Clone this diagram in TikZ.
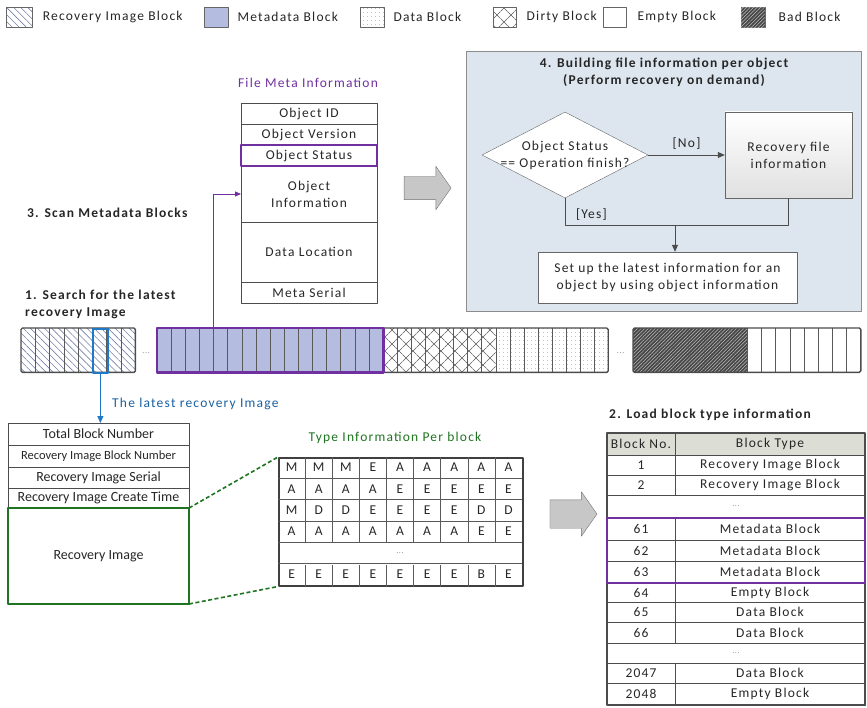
\documentclass[tikz,border=0pt]{standalone}
\usepackage{fontspec}
\setmainfont{Carlito}[LetterSpace=9]
\newfontfamily\plainfont{Carlito}
\usetikzlibrary{positioning,calc,fit,shapes.geometric,shapes.arrows,arrows.meta,patterns.meta}
\definecolor{metafill}{HTML}{B4BCE0}
\definecolor{metapurple}{HTML}{7030A0}
\definecolor{imgblue}{HTML}{1F78C8}
\definecolor{hatchblue}{HTML}{7482AA}
\definecolor{stepgreen}{HTML}{1E7420}
\definecolor{panelblue}{HTML}{DDE6EF}
\definecolor{headgray}{HTML}{DCDDD4}
\definecolor{inkgray}{HTML}{262626}

\begin{document}
\begin{tikzpicture}[x=1pt, y=-1pt, line join=round,
    font=\fontsize{13.5}{17}\selectfont,
    every node/.append style={text=inkgray},
    riblk/.style={pattern={Lines[angle=-45,distance=5pt,line width=0.6pt]}, pattern color=hatchblue},
    metablk/.style={fill=metafill},
    datablk/.style={pattern={Dots[distance=4pt,radius=0.4pt]}, pattern color=black!55},
    dirtyblk/.style={pattern={Hatch[angle=45,distance=9.9pt,line width=0.5pt]}, pattern color=black!65},
    emptyblk/.style={fill=white},
    badblk/.style={fill=black!72, postaction={pattern={Lines[angle=45,distance=2.5pt,line width=0.5pt]}, pattern color=black!25}},
    icon/.style={draw=black!60, minimum width=24, minimum height=20, inner sep=0, anchor=north west},
    legtext/.style={inner sep=0},
    seg/.style={minimum height=44, inner sep=0, anchor=north west},
    cellline/.style={draw=black!65, line width=0.5pt},
    frame/.style={draw=black!70, line width=1.4pt, rounded corners=1.5pt},
    row/.style={draw=black!70, line width=0.7pt, inner sep=0, outer sep=0, anchor=north west, align=center},
    plainrow/.style={row, font=\plainfont\fontsize{14}{17}\selectfont},
    headline/.style={font=\fontsize{13.5}{17}\selectfont\bfseries, inner sep=0, align=left},
    flowarr/.style={draw=black!70, line width=0.8pt, -{Triangle[length=7pt,width=6pt]}},
    bigarrow/.style={single arrow, draw=black!55, fill=black!22, inner xsep=0, minimum height=47,
      single arrow tip angle=110},
    zoomline/.style={draw=stepgreen, line width=1.6pt, dash pattern=on 4pt off 2.5pt}]
\useasboundingbox (0,0) rectangle (867,708);

% Legend
\node[icon, riblk, minimum width=26] (ricon) at (6,7) {};
\node[legtext, right=10pt of ricon] (rilab) {Recovery Image Block};
\node[icon, metablk] (micon) at (204,7) {};
\node[legtext, right=9pt of micon] (mlab) {Metadata Block};
\node[icon, datablk] (dicon) at (360,7) {};
\node[legtext, right=9pt of dicon] (dlab) {Data Block};
\node[icon, dirtyblk, minimum width=23] (xicon) at (493,7) {};
\node[legtext, right=10pt of xicon] (xlab) {Dirty Block};
\node[icon, emptyblk, minimum width=23] (eicon) at (603,7) {};
\node[legtext, right=11pt of eicon] (elab) {Empty Block};
\node[icon, badblk] (bicon) at (741,7) {};
\node[legtext, right=13pt of bicon] (blab) {Bad Block};

% Block strip
\node[seg, riblk, minimum width=114] (riseg) at (21,328) {};
\foreach \i in {1,...,7} \draw[cellline] ($(riseg.north west)+(\i*14.25,0)$) -- ++(0,44);
\draw[frame] (riseg.north west) rectangle (riseg.south east);
\node[seg, draw=imgblue, line width=2pt, minimum width=14.25] (imgcell) at (92.25,328) {};

\node[seg, metablk, minimum width=226] (metaseg) at (157,328) {};
\node[seg, dirtyblk, minimum width=112, right=0pt of metaseg] (dirtyseg) {};
\node[seg, datablk, minimum width=112, right=0pt of dirtyseg] (dataseg) {};
\foreach \i in {1,...,15} \draw[cellline] ($(metaseg.north west)+(\i*14.125,0)$) -- ++(0,44);
\draw[cellline, line width=1pt] ($(metaseg.north west)+(113,0)$) -- ++(0,44);
\foreach \i in {0,...,7} {
  \draw[cellline] ($(dirtyseg.north west)+(\i*14,0)$) -- ++(0,44);
  \draw[cellline] ($(dataseg.north west)+(\i*14,0)$) -- ++(0,44);
}
\draw[frame] (metaseg.north west) rectangle (dataseg.south east);
\draw[draw=metapurple, line width=2.2pt] (metaseg.north west) rectangle (metaseg.south east);

\node[seg, badblk, minimum width=114] (badseg) at (633,328) {};
\node[seg, emptyblk, minimum width=113, right=0pt of badseg] (emptyseg) {};
\foreach \i in {0,...,7} \draw[cellline] ($(emptyseg.north west)+(\i*14.125,0)$) -- ++(0,44);
\draw[frame] (badseg.north west) rectangle (emptyseg.south east);

\node[text=black!50, font=\footnotesize] (gapa) at ($(riseg.east)!0.5!(metaseg.west)+(0,3)$) {...};
\node[text=black!50, font=\footnotesize] (gapb) at ($(dataseg.east)!0.5!(badseg.west)+(0,3)$) {...};

% Step labels
\node[headline, anchor=west] (scanlab) at (27,213) {3. Scan Metadata Blocks};
\node[headline, anchor=west] (searchlab) at (25,304) {1. Search for the latest\\recovery Image};
\node[headline, anchor=west] (loadlab) at (609,415) {2. Load block type information};

% File meta information
\node[text=metapurple] (fmititle) at (308,83) {File Meta Information};
\node[row, minimum width=136, minimum height=21] (oid) at (241,103) {Object ID};
\node[row, minimum width=136, minimum height=21, below=0pt of oid] (over) {Object Version};
\node[row, minimum width=136, minimum height=21, below=0pt of over] (ostat) {Object Status};
\node[row, minimum width=136, minimum height=56, below=0pt of ostat] (oinfo) {Object\\Information};
\node[row, minimum width=136, minimum height=60, below=0pt of oinfo] (dloc) {Data Location};
\node[row, minimum width=136, minimum height=21, below=0pt of dloc] (mser) {Meta Serial};
\draw[draw=metapurple, line width=2.2pt] (ostat.north west) rectangle (ostat.south east);
\draw[draw=metapurple, line width=0.9pt, -{Triangle[length=6pt,width=5pt]}]
  ($(metaseg.north west)!0.248!(metaseg.north east)$) |- (oinfo.west);

\node[bigarrow, inner ysep=11.5pt, single arrow head extend=10pt] (toproc) at (423.5,188) {};

% 4. Building file information
\node[draw=black!45, fill=panelblue, minimum width=395, minimum height=260, inner sep=0, anchor=north west] (panel) at (466,51) {};
\node[headline, align=center] (ptitle) at (664,72) {4. Building file information per object\\(Perform recovery on demand)};
\node[diamond, draw=black!60, fill=white, minimum width=166, minimum height=86, inner sep=0] (chk) at (565,155) {};
\node[align=center, inner sep=0] (chktext) at (chk) {Object Status\\== Operation finish?};
\node[draw=black!60, top color=white, bottom color=black!12, minimum width=127, minimum height=86, align=center] (recfile) at (788.5,155) {Recovery file\\information};
\node[draw=black!60, fill=white, minimum width=259, minimum height=51, align=center] (setup) at (667.5,277.5) {Set up the latest information for an\\object by using object information};
\coordinate (merge) at (675,225);
\draw[flowarr] (chk.east) -- (recfile.west) node[midway, above=2pt] (nolab) {[No]};
\draw[draw=black!70, line width=0.8pt] (chk.south) |- (merge) node[pos=0.62, above=1pt] (yeslab) {[Yes]};
\draw[draw=black!70, line width=0.8pt] (recfile.south) |- (merge);
\draw[flowarr] (merge) -- (merge |- setup.north);

% Latest recovery image
\node[plainrow, minimum width=181, minimum height=22] (tbn) at (8,423) {Total Block Number};
\node[plainrow, minimum width=181, minimum height=22, below=0pt of tbn, font=\plainfont\fontsize{12.5}{15}\selectfont] (ribn) {Recovery Image Block Number};
\node[plainrow, minimum width=181, minimum height=21, below=0pt of ribn] (ris) {Recovery Image Serial};
\node[plainrow, minimum width=181, minimum height=20, below=0pt of ris] (rict) {Recovery Image Create Time};
\node[plainrow, minimum width=181, minimum height=96, below=0pt of rict] (rimage) {Recovery Image};
\draw[draw=stepgreen, line width=2.5pt] (rimage.north west) rectangle (rimage.south east);
\draw[draw=imgblue, line width=1pt, -{Triangle[length=7pt,width=6pt]}] (imgcell.south) -- (imgcell.south |- tbn.north);
\node[text=imgblue!80!black, anchor=west, inner sep=0] (latestlab) at (112,404) {The latest recovery Image};

% Type information per block
\node[text=stepgreen] (typetitle) at (395,438) {Type Information Per block};
\node[draw=black!75, line width=1.5pt, minimum width=244, minimum height=128, inner sep=0, anchor=north west] (grid) at (278,457) {};
\foreach \k in {1,...,5} \draw[cellline] ($(grid.north west)+(0,\k*21.33)$) -- ++(244,0);
\foreach \c in {1,...,8} {
  \draw[cellline] ($(grid.north west)+(\c*27.11,0)$) -- ++(0,85.33);
  \draw[cellline] ($(grid.south west)+(\c*27.11,0)$) -- ++(0,-21.33);
}
\foreach \line [count=\r] in {{M,M,M,E,A,A,A,A,A},{A,A,A,A,E,E,E,E,E},{M,D,D,E,E,E,E,D,D},{A,A,A,A,A,A,A,E,E}}
  \foreach \t [count=\c] in \line
    \node[inner sep=0] (g-\r-\c) at ($(grid.north west)+(\c*27.11-13.55,\r*21.33-10.67)$) {\t};
\foreach \t [count=\c] in {E,E,E,E,E,E,E,B,E}
  \node[inner sep=0] (g-6-\c) at ($(grid.north west)+(\c*27.11-13.55,117.3)$) {\t};
\node[text=black!50, font=\footnotesize] (g-dots) at ($(grid.north west)+(122,96)$) {...};
\draw[zoomline] (rimage.north east) -- (grid.north west);
\draw[zoomline] (rimage.south east) -- (grid.south west);

\node[bigarrow, inner ysep=14pt, single arrow head extend=8pt] (toload) at (568.5,514) {};

% Block type table
\node[row, fill=headgray, minimum width=68, minimum height=22] (bn-h) at (607,433) {Block No.};
\node[row, fill=headgray, minimum width=190, minimum height=22, right=0pt of bn-h] (bt-h) {Block Type};
\foreach \no/\kind/\rowy/\rowh [count=\k] in {1/Recovery Image Block/455/20, 2/Recovery Image Block/475/20,
    61/Metadata Block/518/22, 62/Metadata Block/540/21, 63/Metadata Block/561/22, 64/Empty Block/583/19,
    65/Data Block/602/20, 66/Data Block/622/21, 2047/Data Block/663/20, 2048/Empty Block/683/22} {
  \node[row, minimum width=68, minimum height=\rowh] (bn-\k) at (607,\rowy) {\no};
  \node[row, minimum width=190, minimum height=\rowh, right=0pt of bn-\k] (bt-\k) {\kind};
}
\node[row, minimum width=258, minimum height=23, text=black!50, font=\footnotesize] (bdots-a) at (607,495) {...};
\node[row, minimum width=258, minimum height=20, text=black!50, font=\footnotesize] (bdots-b) at (607,643) {...};
\draw[draw=black!70, line width=1.2pt] (bn-h.north west) rectangle (bt-10.south east);
\node[fit=(bn-3)(bt-5), draw=metapurple, line width=2.2pt, inner sep=0] (metarows) {};
\end{tikzpicture}
\end{document}
